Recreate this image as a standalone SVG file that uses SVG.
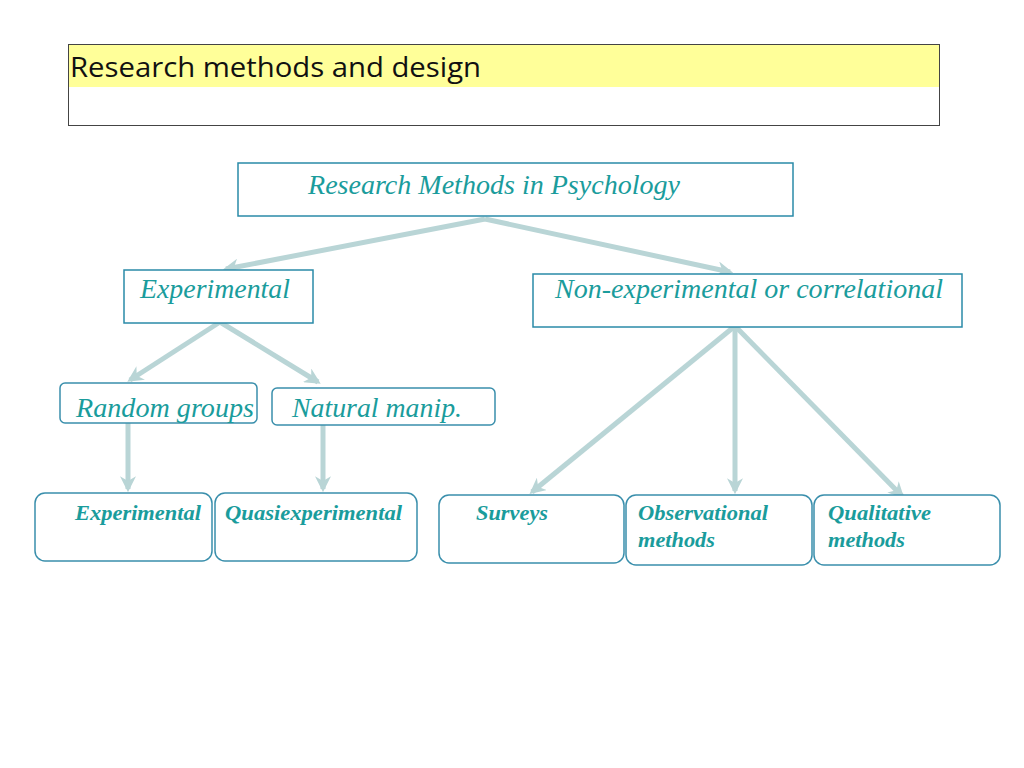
<svg xmlns="http://www.w3.org/2000/svg" width="1024" height="768" viewBox="0 0 1024 768">
<style>
.t{font-family:"Liberation Serif","Times New Roman",serif;font-style:italic;fill:#1a9c9c;font-size:28px}
.b{font-family:"Liberation Serif","Times New Roman",serif;font-style:italic;font-weight:bold;fill:#1a9c9c;font-size:22px}
.box{fill:#fff;stroke:#2a8aa8;stroke-width:1.5}
.rbox{fill:#fff;stroke:#3a8fac;stroke-width:1.5}
.c{stroke:#b9d5d6;stroke-width:5;fill:none;marker-end:url(#ah)}
</style>
<defs>
<marker id="ah" viewBox="0 0 10 10" refX="8" refY="5" markerWidth="3.2" markerHeight="3.2" orient="auto" markerUnits="strokeWidth">
<path d="M0,0 L10,5 L0,10 L3,5 Z" fill="#b9d5d6"/>
</marker>
</defs>
<rect width="1024" height="768" fill="#fff"/>
<g id="title">
<rect x="68.5" y="44.5" width="871" height="81" fill="#fff" stroke="#444"/>
<rect x="69" y="45" width="870" height="42" fill="#ffff99"/>
<text x="70" y="77" font-family="Open Sans,Liberation Sans,sans-serif" font-size="28" fill="#111" textLength="411" lengthAdjust="spacingAndGlyphs">Research methods and design</text>
</g>
<g id="connectors">
<path class="c" d="M485,219 L226,269"/>
<path class="c" d="M485,219 L730,272"/>
<path class="c" d="M220,322 L130,380"/>
<path class="c" d="M220,322 L318,382"/>
<path class="c" d="M128,423 L128,489"/>
<path class="c" d="M323,425 L323,489"/>
<path class="c" d="M735,326 L532,492"/>
<path class="c" d="M735,326 L735,491"/>
<path class="c" d="M735,326 L902,496"/>
</g>
<g id="root"><rect class="box" x="238" y="163" width="555" height="53"/><text class="t" x="308" y="194" textLength="372" lengthAdjust="spacingAndGlyphs">Research Methods in Psychology</text></g>
<g id="experimental"><rect class="box" x="124" y="270" width="189" height="53"/><text class="t" x="140" y="298" textLength="150" lengthAdjust="spacingAndGlyphs">Experimental</text></g>
<g id="nonexperimental"><rect class="box" x="533" y="274" width="429" height="53"/><text class="t" x="555" y="298" textLength="388" lengthAdjust="spacingAndGlyphs">Non-experimental or correlational</text></g>
<g id="random"><rect class="rbox" x="60" y="383" width="197" height="40" rx="5"/><text class="t" x="76" y="417" textLength="178" lengthAdjust="spacingAndGlyphs">Random groups</text></g>
<g id="natural"><rect class="rbox" x="272" y="388" width="223" height="37" rx="5"/><text class="t" x="292" y="417" textLength="170" lengthAdjust="spacingAndGlyphs">Natural manip.</text></g>
<g id="exp2"><rect class="rbox" x="35" y="493" width="177" height="68" rx="10"/><text class="b" x="75" y="520" textLength="126" lengthAdjust="spacingAndGlyphs">Experimental</text></g>
<g id="quasi"><rect class="rbox" x="215" y="493" width="202" height="68" rx="10"/><text class="b" x="225" y="520" textLength="177" lengthAdjust="spacingAndGlyphs">Quasiexperimental</text></g>
<g id="surveys"><rect class="rbox" x="439" y="495" width="185" height="68" rx="10"/><text class="b" x="476" y="520" textLength="72" lengthAdjust="spacingAndGlyphs">Surveys</text></g>
<g id="observational"><rect class="rbox" x="626" y="495" width="186" height="70" rx="10"/><text class="b" x="638" y="520" textLength="130" lengthAdjust="spacingAndGlyphs">Observational</text><text class="b" x="638" y="547" textLength="77" lengthAdjust="spacingAndGlyphs">methods</text></g>
<g id="qualitative"><rect class="rbox" x="814" y="495" width="186" height="70" rx="10"/><text class="b" x="828" y="520" textLength="103" lengthAdjust="spacingAndGlyphs">Qualitative</text><text class="b" x="828" y="547" textLength="77" lengthAdjust="spacingAndGlyphs">methods</text></g>
</svg>
